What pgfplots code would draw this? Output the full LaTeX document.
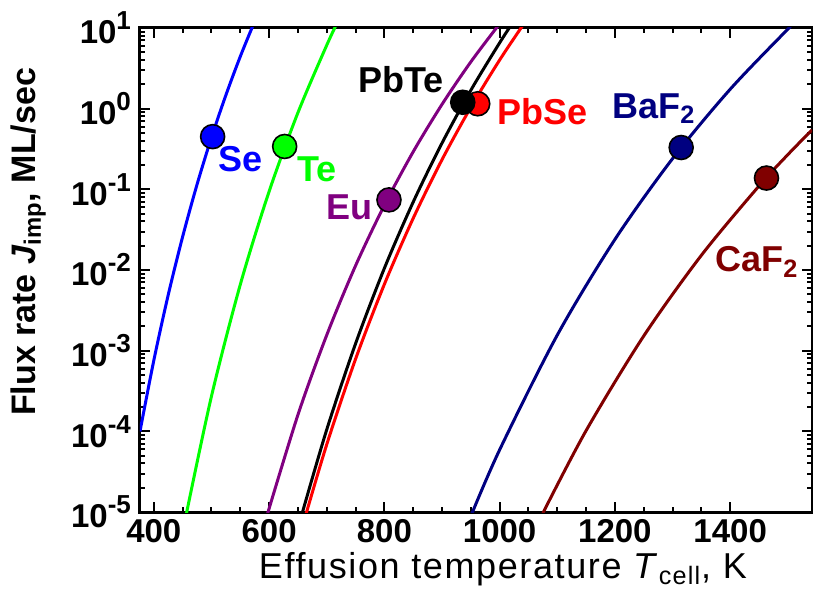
\documentclass[border=0pt]{standalone}
\usepackage{fontspec}
\setmainfont{Liberation Sans}
\usepackage{pgfplots}
\pgfplotsset{compat=1.18}
\definecolor{cSe}{RGB}{0,0,255}
\definecolor{cTe}{RGB}{0,255,0}
\definecolor{cEu}{RGB}{128,0,128}
\definecolor{cPbSe}{RGB}{255,0,0}
\definecolor{cBa}{RGB}{0,0,128}
\definecolor{cCa}{RGB}{128,0,0}
\newcommand{\ex}[1]{10\raisebox{0.42em}{\fontsize{13}{13}\selectfont #1}}
\begin{document}
\begin{tikzpicture}
\useasboundingbox (-70pt,-40pt) rectangle (336.5pt,256pt);
\begin{axis}[
  at={(0,0)}, anchor=south west,
  scale only axis, width=336pt, height=242pt,
  xmin=376, xmax=1542, ymin=1e-5, ymax=10, ymode=log,
  xtick={400,600,800,1000,1200,1400},
  minor x tick num=3,
  ytick={1e-5,1e-4,1e-3,1e-2,1e-1,1,10},
  yticklabels={\ex{-5},\ex{-4},\ex{-3},\ex{-2},\ex{-1},\ex{0},\ex{1}},
  /pgf/number format/assume math mode=true,
  /pgf/number format/1000 sep={},
  axis line style={line width=1.5pt},
  tick style={line width=1pt, black},
  major tick length=5pt, minor tick length=2.5pt,
  tick align=inside,
  xticklabel style={font=\fontsize{16.5}{16.5}\selectfont\bfseries},
  yticklabel style={font=\fontsize{16.5}{16.5}\selectfont\bfseries, xshift=-1pt},
  xlabel={\addfontfeature{LetterSpace=4.5}Effusion temperature \textit{T}\textsubscript{cell}, K},
  xlabel style={font=\fontsize{18}{18}\selectfont, at={(axis description cs:0.54,0)}, anchor=base, yshift=-33pt},
  ylabel={\textbf{Flux rate \textit{J}\textsubscript{imp}, ML/sec}},
  ylabel style={font=\fontsize{17}{17}\selectfont, at={(axis description cs:-0.166,0.558)}, anchor=center},
  every axis plot/.append style={line width=1.5pt},
]
% Se
\addplot[cSe, smooth] coordinates {(376,1.0e-4) (400,7.59e-4) (425,4.92e-3) (450,2.59e-2) (475,0.115) (500,0.439) (525,1.47) (550,4.43) (575,12.1)};
% Te
\addplot[cTe, smooth] coordinates {(455,8.45e-6) (500,2.72e-4) (550,6.59e-3) (600,9.40e-2) (650,0.891) (700,6.12) (720,12.3)};
% Eu
\addplot[cEu, smooth] coordinates {(595,8.39e-6) (650,1.60e-4) (700,1.56e-3) (750,1.13e-2) (800,6.35e-2) (850,0.292) (900,1.13) (950,3.80) (1000,11.3)};
% PbSe
\addplot[cPbSe, smooth] coordinates {(660,7.48e-6) (700,6.87e-5) (750,7.87e-4) (800,6.65e-3) (850,4.37e-2) (900,0.233) (950,1.04) (1000,4.01) (1045,12.1)};
% PbTe
\addplot[black, smooth] coordinates {(655,8.41e-6) (700,1.05e-4) (750,1.22e-3) (800,1.05e-2) (850,6.95e-2) (900,0.374) (950,1.69) (1000,6.55) (1025,12.3)};
% BaF2
\addplot[cBa, smooth] coordinates {(950,8.87e-6) (1000,5.90e-5) (1100,1.56e-3) (1200,2.39e-2) (1300,0.240) (1400,1.74) (1500,9.68) (1510,11.35)};
% CaF2
\addplot[cCa, smooth] coordinates {(1075,9.66e-6) (1150,1.02e-4) (1250,1.52e-3) (1350,1.52e-2) (1450,0.110) (1500,0.269) (1542,0.545)};
% markers
\addplot[only marks, mark=*, mark size=6pt, mark options={fill=cSe, draw=black, line width=0.8pt}] coordinates {(502,0.45)};
\addplot[only marks, mark=*, mark size=6pt, mark options={fill=cTe, draw=black, line width=0.8pt}] coordinates {(627,0.34)};
\addplot[only marks, mark=*, mark size=6pt, mark options={fill=cEu, draw=black, line width=0.8pt}] coordinates {(808,0.074)};
\addplot[only marks, mark=*, mark size=6pt, mark options={fill=cPbSe, draw=black, line width=0.8pt}] coordinates {(962,1.15)};
\addplot[only marks, mark=*, mark size=6pt, mark options={fill=black, draw=black, line width=0.8pt}] coordinates {(936,1.2)};
\addplot[only marks, mark=*, mark size=6pt, mark options={fill=cBa, draw=black, line width=0.8pt}] coordinates {(1315,0.33)};
\addplot[only marks, mark=*, mark size=6pt, mark options={fill=cCa, draw=black, line width=0.8pt}] coordinates {(1463,0.138)};
% labels
\tikzset{lab/.style={anchor=base west, inner sep=0pt, font=\fontsize{18}{18}\selectfont\bfseries}}
\node[lab, text=cSe] at (axis description cs:0.116,0.7025) {Se};
\node[lab, text=cTe] at (axis description cs:0.2336,0.682) {Te};
\node[lab, text=cEu] at (axis description cs:0.2768,0.6033) {Eu};
\node[lab, text=black] at (axis description cs:0.3244,0.8657) {PbTe};
\node[lab, text=cPbSe] at (axis description cs:0.5313,0.7996) {PbSe};
\node[lab, text=cBa] at (axis description cs:0.7024,0.814) {BaF\textsubscript{2}};
\node[lab, text=cCa] at (axis description cs:0.8557,0.4959) {CaF\textsubscript{2}};
\end{axis}
\end{tikzpicture}
\end{document}
